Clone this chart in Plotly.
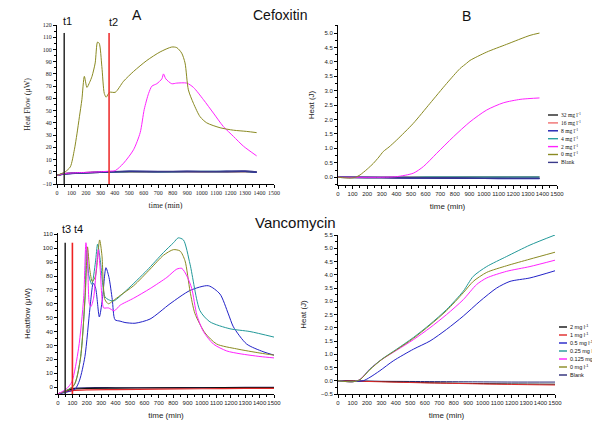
import plotly.graph_objects as go

# the page body keeps its default 8 px margin, so the figure is drawn 8 px smaller
OFF = 8
W, H = 600 - OFF, 432 - OFF

# ---------------- Cefoxitin : heat flow (A) ----------------
cef_names = ["32 mg l<sup>-1</sup>", "16 mg l<sup>-1</sup>", "8 mg l<sup>-1</sup>", "4 mg l<sup>-1</sup>",
             "2 mg l<sup>-1</sup>", "0 mg l<sup>-1</sup>", "Blank"]
cef_colors = ["#222222", "#f07070", "#1c1cb0", "#2aa0a0", "#ff22ff", "#8a8a22", "#3a3a8a"]

a_flat_t = [0, 50, 150, 300, 500, 700, 900, 1100, 1300, 1380]
a_32 = [-3, -1.6, -1.0, -0.5, 0.0, 0.0, 0.1, 0.0, 0.1, -0.3]
a_16 = [-3, -1.5, -0.9, -0.4, 0.1, 0.1, 0.0, 0.1, 0.0, -0.2]
a_8 = [-3, -1.7, -1.1, -0.4, 0.3, 0.1, 0.2, 0.1, 0.3, -0.4]
a_4 = [-3, -1.5, -1.0, -0.5, 0.2, 0.0, 0.1, 0.2, 0.1, -0.3]
a_blank = [-3, -1.8, -1.0, -0.3, 0.5, 0.2, 0.4, 0.3, 0.6, -0.3]

a_2_t = [0, 50, 100, 200, 300, 360, 403, 460, 529, 575, 603, 633, 656, 690, 725, 736, 752,
         793, 828, 897, 943, 1012, 1081, 1150, 1219, 1288, 1380]
a_2 = [-3, -1.5, -1, -0.5, 0, 0.5, 1, 7, 18, 32, 51, 64, 70, 72, 76, 80, 76,
       72, 72.5, 72.5, 69, 59, 48, 37, 29, 21, 13]

a_0_t = [0, 30, 57, 92, 120, 138, 155, 172, 189, 207, 225, 242, 264, 280, 292, 310, 327, 340,
         363, 403, 460, 529, 621, 713, 793, 828, 862, 885, 908, 943, 989, 1035, 1127, 1219, 1311, 1380]
a_0 = [-3, -1.5, 0, 4, 18, 31, 45, 59, 78, 69, 73, 78, 89, 106, 105, 86, 64, 61,
       65, 65, 74, 82, 91, 98, 102, 101.5, 97, 89, 67, 56, 45, 40, 36, 34, 33, 32]

# ---------------- Cefoxitin : heat (B) ----------------
b_flat_t = [0, 200, 400, 600, 800, 1000, 1200, 1380]
b_32 = [0, -0.01, -0.02, -0.02, -0.03, -0.03, -0.04, -0.04]
b_16 = [0, 0.0, 0.01, 0.01, 0.01, 0.02, 0.02, 0.02]
b_8 = [0, -0.01, -0.02, -0.03, -0.03, -0.04, -0.05, -0.05]
b_4 = [0, 0.0, 0.0, 0.01, 0.01, 0.01, 0.01, 0.01]
b_blank = [0, -0.01, -0.01, -0.02, -0.02, -0.03, -0.03, -0.03]

b_2_t = [0, 300, 402, 516, 585, 676, 790, 904, 1018, 1132, 1247, 1315, 1380]
b_2 = [0, 0, 0.02, 0.14, 0.37, 0.83, 1.4, 1.92, 2.33, 2.58, 2.70, 2.73, 2.75]

b_0_t = [0, 84, 120, 151, 200, 242, 280, 310, 350, 402, 516, 630, 744, 836, 880, 904,
         1018, 1155, 1315, 1380]
b_0 = [0, -0.03, 0, 0.08, 0.28, 0.48, 0.7, 0.89, 1.05, 1.29, 1.87, 2.56, 3.25, 3.77, 3.95, 4.05,
       4.34, 4.61, 4.92, 5.0]

# ---------------- Vancomycin : heat flow (C) ----------------
van_names = ["2 mg l<sup>-1</sup>", "1 mg l<sup>-1</sup>", "0.5 mg l<sup>-1</sup>", "0.25 mg l<sup>-1</sup>",
             "0.125 mg l<sup>-1</sup>", "0 mg l<sup>-1</sup>", "Blank"]
van_colors = ["#111111", "#e02828", "#2222c8", "#229999", "#ff22ff", "#8a8a22", "#2a2a78"]

c_flat_t = [0, 50, 100, 200, 400, 700, 1000, 1300, 1500]
c_2 = [-5, -3, -1.5, -1, -0.8, -0.6, -0.5, -0.3, -0.3]
c_1 = [-5, -3.5, -2.5, -2, -1.8, -1.5, -1.2, -1, -1]
c_blank = [-5, -3, -1, -0.5, -0.5, -0.5, -0.4, -0.2, -0.2]

c_05_t = [0, 118, 150, 187, 222, 245, 262, 287, 308, 333, 354, 377, 396, 431, 465, 535,
          639, 778, 917, 1044, 1125, 1183, 1218, 1310, 1424, 1500]
c_05 = [-5, -1.5, 5, 22, 57, 75, 71, 50.5, 63, 86, 79, 63, 48.5, 47.5, 46.5, 46,
        49, 60, 69.6, 73, 67, 52.7, 43.4, 31, 25.5, 23]

c_025_t = [0, 109, 155, 190, 197, 215, 235, 260, 275, 293, 326, 350, 386, 478, 617, 733,
           802, 835, 871, 917, 986, 1055, 1194, 1333, 1500]
c_025 = [-5, 1, 20, 70, 99, 80, 74, 90, 103, 92, 65, 63, 62, 70, 84, 97,
         104, 107.5, 106, 88.5, 55, 47, 42, 40, 36]

c_0125_t = [0, 62, 97, 143, 178, 194, 206, 218, 229, 247, 270, 280, 293, 317, 335, 351, 391,
            432, 525, 640, 756, 825, 860, 895, 929, 964, 1010, 1079, 1172, 1264, 1403, 1500]
c_0125 = [-5, -1, 4, 28, 64, 104, 88, 60, 58, 64, 90, 99, 85, 57, 57, 57, 55,
          59, 64, 71, 79, 85, 85.5, 80, 71, 52, 40, 31, 26, 24, 22, 21]

c_0_t = [0, 109, 155, 190, 205, 220, 238, 260, 289, 305, 326, 350, 380, 432, 525, 640, 733,
         801, 848, 882, 917, 951, 1021, 1102, 1241, 1403, 1500]
c_0 = [-5, 1, 20, 68, 101, 85, 76, 80, 106, 95, 63, 60, 62, 66, 73, 85, 95,
       99, 98, 91, 69, 53, 39, 31, 27.5, 24.5, 23]

# ---------------- Vancomycin : heat (D) ----------------
d_flat_t = [0, 300, 600, 900, 1200, 1500]
d_2 = [0, -0.03, -0.07, -0.1, -0.12, -0.13]
d_1 = [0, -0.04, -0.08, -0.11, -0.14, -0.16]
d_blank = [0, -0.02, -0.03, -0.04, -0.05, -0.05]

d_025_t = [0, 100, 152, 221, 302, 405, 521, 636, 751, 866, 935, 1028, 1166, 1327, 1500]
d_025 = [0, -0.04, 0.04, 0.44, 0.81, 1.19, 1.63, 2.13, 2.69, 3.38, 3.94, 4.31, 4.69, 5.12, 5.5]
d_0 = [0, -0.04, 0.04, 0.42, 0.8, 1.17, 1.6, 2.1, 2.65, 3.32, 3.75, 4.09, 4.34, 4.59, 4.85]
d_0125_t = [0, 100, 152, 221, 302, 405, 521, 636, 751, 866, 958, 1028, 1166, 1327, 1500]
d_0125 = [0, -0.04, 0.05, 0.45, 0.8, 1.15, 1.55, 2.0, 2.5, 3.06, 3.63, 3.88, 4.13, 4.31, 4.55]
d_05_t = [0, 100, 175, 221, 290, 382, 521, 636, 751, 866, 981, 1097, 1189, 1327, 1500]
d_05 = [0, -0.03, 0, 0.13, 0.38, 0.75, 1.19, 1.5, 1.94, 2.44, 3.0, 3.5, 3.75, 3.88, 4.15]

# addition times (vertical markers)
cef_marks = [50, 360]
cef_mark_labels = ["t1", "t2"]
van_marks = [50, 100]
van_mark_labels = ["t3", "t4"]

SERIF = "Liberation Serif"
SANS = "Liberation Sans"


def px(x):
    return (x - OFF) / W


def py(y):
    return 1 - (y - OFF) / H


fig = go.Figure()


def add(ax, t, v, color, width=1.0):
    fig.add_trace(go.Scatter(x=t, y=v, mode="lines", xaxis="x" + ax, yaxis="y" + ax,
                             line=dict(color=color, width=width, shape="spline", smoothing=0.7),
                             showlegend=False, hoverinfo="skip"))


# panel A
for vals, col in zip([a_32, a_16, a_4, a_8, a_blank], [cef_colors[0], cef_colors[1], cef_colors[3],
                                                        cef_colors[2], cef_colors[6]]):
    add("", a_flat_t, vals, col, 1.4)
add("", a_2_t, a_2, cef_colors[4])
add("", a_0_t, a_0, cef_colors[5])
for t, col in zip(cef_marks, ["#333333", "#ee3333"]):
    add("", [t, t], [-10, 113.5], col, 1.6)

# panel B
for vals, col in zip([b_32, b_16, b_8, b_4, b_blank], [cef_colors[0], cef_colors[1], cef_colors[2],
                                                        cef_colors[3], cef_colors[6]]):
    add("2", b_flat_t, vals, col, 1.4)
add("2", b_2_t, b_2, cef_colors[4])
add("2", b_0_t, b_0, cef_colors[5])

# panel C
add("3", c_flat_t, c_blank, van_colors[6], 1.2)
add("3", c_flat_t, c_2, van_colors[0], 1.2)
add("3", c_flat_t, c_1, van_colors[1], 1.2)
add("3", c_05_t, c_05, van_colors[2])
add("3", c_025_t, c_025, van_colors[3])
add("3", c_0_t, c_0, van_colors[5])
add("3", c_0125_t, c_0125, van_colors[4])
for t, col in zip(van_marks, ["#333333", "#ee2222"]):
    add("3", [t, t], [-5, 104], col, 1.6)

# panel D
add("4", d_flat_t, d_blank, van_colors[6])
add("4", d_flat_t, d_2, van_colors[0])
add("4", d_flat_t, d_1, van_colors[1])
add("4", d_05_t, d_05, van_colors[2])
add("4", d_0125_t, d_0125, van_colors[4])
add("4", d_025_t, d_025, van_colors[3])
add("4", d_025_t, d_0, van_colors[5])


def xax(dom, anchor, font):
    return dict(domain=dom, anchor=anchor, range=[0, 1500], dtick=100, tick0=0, tickangle=0,
                automargin=False,
                showgrid=False, zeroline=False, showline=True, linecolor="#000", linewidth=1,
                ticks="outside", ticklen=3, tickcolor="#000",
                minor=dict(dtick=50, ticks="outside", ticklen=2, tickcolor="#000"),
                tickfont=dict(family=font, size=6, color="#222"),
                title=dict(text="time (min)", font=dict(family=font, size=8, color="#222"), standoff=7))


def yax(dom, anchor, rng, dtick, title, font, standoff, fmt=None):
    d = dict(domain=dom, anchor=anchor, range=rng, dtick=dtick, tick0=0, automargin=False,
             showgrid=False, zeroline=False, showline=True, linecolor="#000", linewidth=1,
             ticks="outside", ticklen=3, tickcolor="#000",
             minor=dict(dtick=dtick / 2, ticks="outside", ticklen=2, tickcolor="#000"),
             tickfont=dict(family=font, size=6, color="#222"),
             title=dict(text=title, font=dict(family=font, size=8, color="#222"), standoff=standoff))
    if fmt:
        d["tickformat"] = fmt
    return d


xa, xb, xc, xd = [px(57), px(274)], [px(338), px(557)], [px(58), px(274)], [px(338), px(555)]
ya, yb, yc, yd = [py(184), py(25)], [py(185), py(25)], [py(394), py(233)], [py(394), py(235)]

fig.update_layout(
    width=W, height=H, margin=dict(l=0, r=0, t=0, b=0),
    paper_bgcolor="white", plot_bgcolor="white", showlegend=False,
    xaxis=xax(xa, "y", SERIF),
    yaxis=yax(ya, "x", [-10, 120], 10, "Heat Flow (μW)", SERIF, 10),
    xaxis2=xax(xb, "y2", SANS),
    yaxis2=yax(yb, "x2", [-0.27, 5.28], 0.5, "Heat (J)", SANS, 8, ".1f"),
    xaxis3=xax(xc, "y3", SANS),
    yaxis3=yax(yc, "x3", [-5, 111], 10, "Heatflow (μW)", SANS, 10),
    xaxis4=xax(xd, "y4", SANS),
    yaxis4=yax(yd, "x4", [-0.5, 5.5], 0.5, "Heat (J)", SANS, 13, ".1f"),
)
fig.update_layout(yaxis2=dict(tickvals=[0, 0.5, 1, 1.5, 2, 2.5, 3, 3.5, 4, 4.5, 5]),
                  yaxis3=dict(tickvals=list(range(0, 111, 10))))

ann = []


def text(x, y, s, size, font=SANS, xanchor="center"):
    ann.append(dict(x=px(x), y=py(y), xref="paper", yref="paper", text=s, showarrow=False,
                    xanchor=xanchor, yanchor="middle", font=dict(family=font, size=size, color="#111")))


text(137, 15, "A", 14)
text(280, 15, "Cefoxitin", 14)
text(466, 16, "B", 14)
text(295, 222, "Vancomycin", 15)
text(67, 21, cef_mark_labels[0], 11)
text(113, 22, cef_mark_labels[1], 11)
text(66, 229, van_mark_labels[0], 11)
text(78, 229, van_mark_labels[1], 11)

shapes = []
for i, (name, col) in enumerate(zip(cef_names, cef_colors)):
    yy = 115 + i * 7.9
    shapes.append(dict(type="line", xref="paper", yref="paper", x0=px(548), x1=px(558),
                       y0=py(yy), y1=py(yy), line=dict(color=col, width=1.4)))
    text(559, yy, name, 5.5, SERIF, "left")
for i, (name, col) in enumerate(zip(van_names, van_colors)):
    yy = 327 + i * 8
    shapes.append(dict(type="line", xref="paper", yref="paper", x0=px(559), x1=px(567),
                       y0=py(yy), y1=py(yy), line=dict(color=col, width=1.4)))
    text(568, yy, name, 5.5, SANS, "left")

fig.update_layout(annotations=ann, shapes=shapes)
fig.write_html("out.html")
